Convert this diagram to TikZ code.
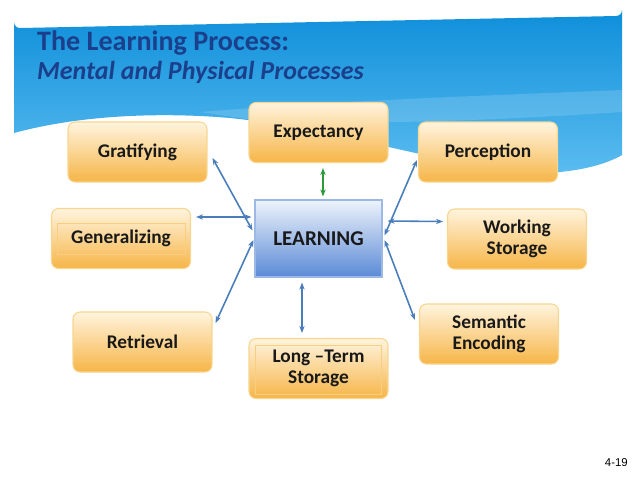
\documentclass[tikz,border=0pt]{standalone}
\usepackage{fontspec}
\setmainfont{Carlito}
\newfontfamily\slidefont{Liberation Sans}
\usepackage{tikz}
\usetikzlibrary{arrows.meta,
                calc,
                positioning}
\definecolor{skytop}{HTML}{0E8FDA}
\definecolor{skybot}{HTML}{5DBDF0}
\definecolor{titleblue}{HTML}{1B3F8B}
\definecolor{cream}{HTML}{FFF4DE}
\definecolor{amber}{HTML}{F6B547}
\definecolor{amberline}{HTML}{F8D690}
\definecolor{linkblue}{HTML}{4A7EBB}
\definecolor{linkgreen}{HTML}{2E9A3A}
\definecolor{learntop}{HTML}{EEF3FB}
\definecolor{learnbot}{HTML}{5A8AD6}

\begin{document}
\begin{tikzpicture}[x=0.02cm,y=-0.02cm,
  proc/.style={draw=amberline,line width=0.6pt,top color=cream,bottom color=amber,
    rounded corners=4pt,minimum width=2.78cm,minimum height=1.2cm,align=center,
    font=\bfseries\fontsize{11}{12.2}\selectfont,text=black!90},
  inbox/.style={draw=amberline!80!amber,line width=0.5pt},
  link/.style={linkblue,line width=0.9pt,{Stealth[length=4pt,width=3pt]}-{Stealth[length=4pt,width=3pt]}}]
\useasboundingbox[fill=white] (0,0) rectangle (638,478);
\shade[top color=skytop,bottom color=skybot]
  (14,133) -- (14,22) arc (180:90:6) -- (616,16) arc (90:0:6) -- (622,155)
  .. controls (610,162) and (590,169) .. (560,172)
  .. controls (480,178) and (350,130) .. (230,118)
  .. controls (160,112) and (80,115) .. (14,133) -- cycle;
\fill[white,opacity=0.15] (200,112) .. controls (350,100) and (500,95) .. (622,90)
  -- (622,112) .. controls (500,120) and (380,125) .. (260,121) -- cycle;
\node[anchor=north west,align=left,text=titleblue,font=\bfseries\fontsize{16}{16.5}\selectfont]
  (title) at (31,25) {The Learning Process:\\\fontsize{14.8}{16.5}\selectfont\itshape Mental and Physical Processes};

\foreach \n/\x/\y/\t in {grat/137.5/152/Gratifying, expect/318.5/132.5/Expectancy,
    percep/488/152/Perception, gener/121/238.5/Generalizing, work/517/239/{Working\\Storage},
    retr/142.5/342/Retrieval, longt/318.5/368.5/{Long --Term\\Storage},
    seman/489/334/{Semantic\\Encoding}}
  \node[proc] (\n) at (\x,\y) {\t};

\draw[inbox] ([shift={(6,15)}]gener.north west) rectangle ([shift={(-6,-15)}]gener.south east);
\draw[inbox] ([shift={(7,7)}]longt.north west) rectangle ([shift={(-7,-5)}]longt.south east);

\node[draw=learnbot!60,line width=0.6pt,top color=learntop,bottom color=learnbot,
  minimum width=2.54cm,minimum height=1.54cm,font=\bfseries\fontsize{12}{14}\selectfont,
  text=black!90] (learn) at (318.5,238.5) {LEARNING};

\draw[link] ([shift={(5,6)}]grat.east) -- ([shift={(-2,-8)}]learn.west);
\draw[link] ([shift={(5,-21.5)}]gener.east) -- ([shift={(-3,-21.5)}]learn.west);
\draw[link] ([shift={(3,-19)}]retr.east) -- ([shift={(-1,1.5)}]learn.west);
\draw[linkgreen,line width=0.9pt,{Stealth[length=4pt,width=3pt]}-{Stealth[length=4pt,width=3pt]}]
  ([shift={(4.5,5)}]expect.south) -- ([shift={(4.5,-3)}]learn.north);
\draw[link] ([shift={(-1,8)}]percep.west) -- ([shift={(2,-3)}]learn.east);
\draw[link] ([shift={(5,-17.5)}]learn.east) -- ([shift={(-4,-17.5)}]work.west);
\draw[link] ([shift={(2,1.5)}]learn.east) -- ([shift={(-4,-14)}]seman.west);
\draw[link] ([shift={(-16.5,5)}]learn.south) -- ([shift={(-16.5,-5)}]longt.north);

\node[anchor=east,font=\slidefont\fontsize{6.5}{8}\selectfont] (slideno) at (634,463) {4-19};
\end{tikzpicture}
\end{document}
